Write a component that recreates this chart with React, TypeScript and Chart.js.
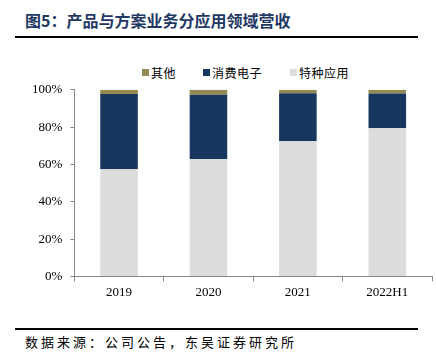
import React, { useEffect, useRef } from "react";
import { Chart, registerables } from "chart.js";

Chart.register(...registerables);

const categories = ["2019", "2020", "2021", "2022H1"];
const specialApp = [57.4, 62.9, 72.4, 79.4];
const consumerElec = [40.3, 34.4, 25.8, 18.6];
const others = [2.3, 2.7, 1.8, 2.0];
const yTicks = [0, 20, 40, 60, 80, 100];
const seriesNames = ["特种应用", "消费电子", "其他"];
const seriesColors = ["#DCDCDC", "#17375E", "#948A54"];

const SERIF = "'Liberation Serif', 'Times New Roman', serif";
const CJK = "'Noto Sans CJK SC', sans-serif";

const legendX = [142, 203, 290];

export default function App() {
  const ref = useRef<HTMLCanvasElement>(null);
  useEffect(() => {
    if (!ref.current) return;
    const values = [specialApp, consumerElec, others];
    const chart = new Chart(ref.current, {
      type: "bar",
      data: {
        labels: categories,
        datasets: seriesNames.map((name, i) => ({
          label: name,
          data: values[i],
          backgroundColor: seriesColors[i],
          barPercentage: 0.42,
          categoryPercentage: 1,
        })),
      },
      options: {
        animation: false,
        responsive: false,
        maintainAspectRatio: false,
        layout: { padding: { left: 24, right: 4, top: 4, bottom: 0 } },
        plugins: {
          tooltip: { enabled: false },
          legend: { display: false },
        },
        scales: {
          x: {
            stacked: true,
            grid: { display: true, drawOnChartArea: false, drawTicks: true, tickLength: 5, color: "#888" },
            border: { display: true, color: "#888" },
            ticks: { color: "#000", font: { family: SERIF, size: 13 }, padding: 3 },
          },
          y: {
            stacked: true,
            min: 0,
            max: 100,
            afterBuildTicks: (axis: any) => {
              axis.ticks = yTicks.map((v) => ({ value: v }));
            },
            grid: { display: true, drawOnChartArea: false, drawTicks: true, tickLength: 4, color: "#888" },
            border: { display: true, color: "#888" },
            ticks: {
              color: "#000",
              font: { family: SERIF, size: 13 },
              padding: 8,
              callback: (v: any) => v + "%",
            },
          },
        },
      },
    });
    return () => chart.destroy();
  }, []);

  const legendOrder = [2, 1, 0];

  return (
    <div style={{ position: "absolute", left: 0, top: 0, width: 436, height: 357, background: "#fff", overflow: "hidden" }}>
      <div
        style={{
          position: "absolute",
          left: 25,
          top: 10,
          fontFamily: CJK,
          fontWeight: "bold",
          fontSize: 16,
          color: "#1F3864",
          whiteSpace: "nowrap",
          lineHeight: "20px",
        }}
      >
        图5：产品与方案业务分应用领域营收
      </div>
      <div style={{ position: "absolute", left: 15, top: 36, width: 403, height: 2, background: "#000" }} />
      {legendOrder.map((idx, k) => (
        <div
          key={idx}
          style={{
            position: "absolute",
            left: legendX[k],
            top: 64,
            height: 16,
            display: "flex",
            alignItems: "center",
            whiteSpace: "nowrap",
            fontFamily: CJK,
            fontSize: 12,
            letterSpacing: "0.5px",
            color: "#000",
          }}
        >
          <span style={{ display: "inline-block", width: 7, height: 7, background: seriesColors[idx], marginRight: 2 }} />
          {seriesNames[idx]}
        </div>
      ))}
      <canvas ref={ref} width={436} height={229} style={{ position: "absolute", left: 0, top: 74 }} />
      <div style={{ position: "absolute", left: 15, top: 328, width: 403, height: 2, background: "#000" }} />
      <div
        style={{
          position: "absolute",
          left: 25,
          top: 334,
          fontFamily: CJK,
          fontSize: 13,
          letterSpacing: "3px",
          color: "#000",
          whiteSpace: "nowrap",
          lineHeight: "15px",
        }}
      >
        数据来源：公司公告，东吴证券研究所
      </div>
    </div>
  );
}
